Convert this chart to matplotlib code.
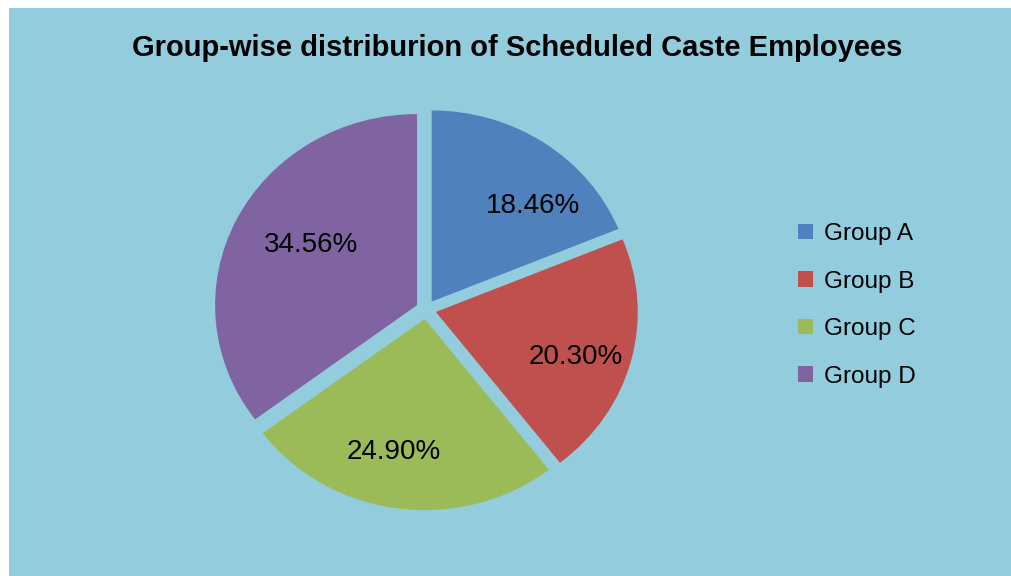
import matplotlib.pyplot as plt
from matplotlib.patches import Rectangle

groups = ['Group A', 'Group B', 'Group C', 'Group D']
shares = [18.46, 20.30, 24.90, 34.56]
colors = ['#4F81BD', '#C0504D', '#9BBB59', '#8064A2']
title = 'Group-wise distriburion of Scheduled Caste Employees'

plt.rcParams['font.family'] = ['Liberation Sans', 'DejaVu Sans']

fig = plt.figure(figsize=(10.12, 5.76), dpi=100, facecolor='white')
# chart area background (white margin on top and left)
fig.patches.append(Rectangle((9 / 1012, 0), 1, 1 - 8 / 576, transform=fig.transFigure,
                             facecolor='#93CDDD', edgecolor='none', zorder=-5))

ax = fig.add_axes([0.1616, 0.03125, 0.5188, 0.8628])
ax.set_zorder(2)
ax.set_facecolor('none')

it = iter(shares)
wedges, texts, autotexts = ax.pie(
    shares, colors=colors, startangle=90, counterclock=False,
    explode=[0.05] * 4, pctdistance=0.7,
    autopct=lambda p: '%.2f%%' % next(it),
    textprops={'fontsize': 20, 'color': 'black'},
    wedgeprops={'linewidth': 0})
# small nudges so the labels sit where Excel put them
nudges = [(0.11, -0.08), (0.015, -0.055), (-0.06, 0.0), (0.1, 0.0)]
for t, (dx, dy) in zip(autotexts, nudges):
    x, y = t.get_position()
    t.set_position((x + dx, y + dy))
ax.set_aspect('auto')
ax.set_xlim(-1.3, 1.3)
ax.set_ylim(-1.3, 1.3)
ax.axis('off')

fig.text(0.511, 1 - 48 / 576, title, ha='center', va='center',
         fontsize=21, fontweight='bold')

leg = fig.legend(wedges, groups, loc='center left', bbox_to_anchor=(0.767, 0.47),
                 frameon=False, fontsize=17.5, handlelength=0.62, handleheight=0.62,
                 handletextpad=0.45, labelspacing=1.05)

fig.savefig('out.png', dpi=100, facecolor=fig.get_facecolor())
